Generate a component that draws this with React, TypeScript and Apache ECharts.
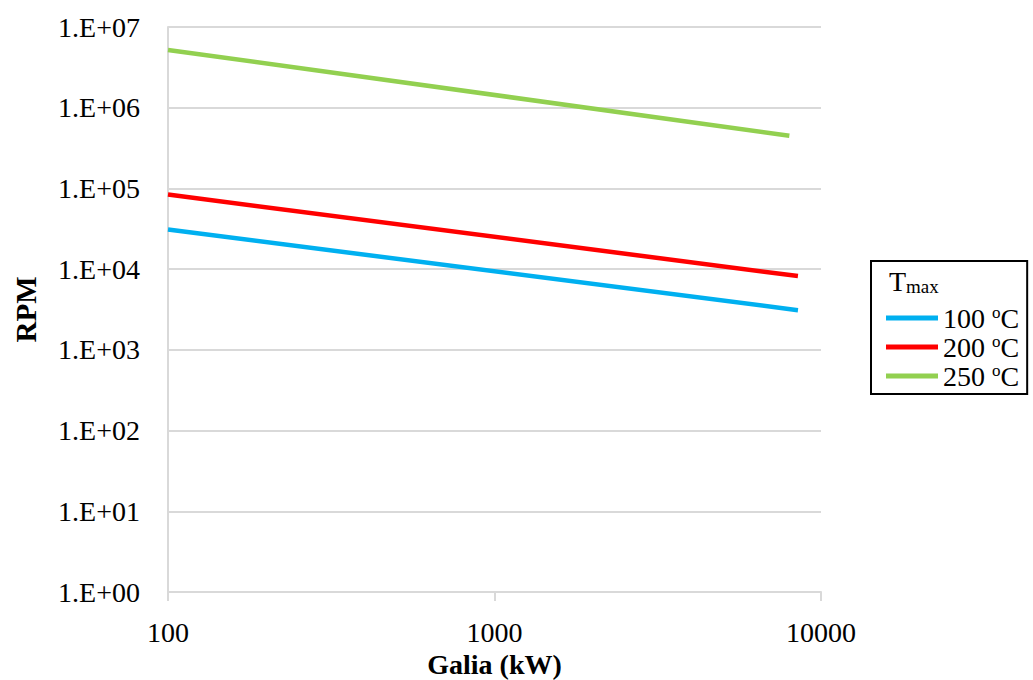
import React, { useEffect, useRef } from "react";
import * as echarts from "echarts";

const seriesNames = ["100", "200", "250"];
const seriesColors = ["#00B0F0", "#FF0000", "#92D050"];
const galia100 = [100, 8500];
const rpm100 = [31000, 3100];
const galia200 = [100, 8500];
const rpm200 = [84000, 8200];
const galia250 = [100, 8000];
const rpm250 = [5200000, 450000];
const yTickLabels = ["1.E+00", "1.E+01", "1.E+02", "1.E+03", "1.E+04", "1.E+05", "1.E+06", "1.E+07"];
const xTickLabels = ["100", "1000", "10000"];

const FONT = "'Liberation Serif', 'Times New Roman', serif";

export default function App() {
  const ref = useRef<HTMLDivElement>(null);
  useEffect(() => {
    if (!ref.current) return;
    const chart = echarts.init(ref.current, undefined, { renderer: "svg" });
    const xs = [galia100, galia200, galia250];
    const ys = [rpm100, rpm200, rpm250];
    chart.setOption({
      animation: false,
      backgroundColor: "#ffffff",
      textStyle: { fontFamily: FONT },
      grid: { left: 168, right: 212, top: 27, bottom: 88, outerBoundsMode: "none", containLabel: false },
      xAxis: {
        type: "log",
        logBase: 10,
        min: 100,
        max: 10000,
        name: "Galia (kW)",
        nameLocation: "middle",
        nameGap: 58,
        nameTextStyle: { fontFamily: FONT, fontSize: 28, fontWeight: "bold", color: "#000" },
        axisLine: { show: true, lineStyle: { color: "#d9d9d9", width: 2 } },
        axisTick: { show: true, length: 9, lineStyle: { color: "#d9d9d9", width: 2 } },
        splitLine: { show: false },
        axisLabel: {
          fontFamily: FONT,
          fontSize: 28,
          color: "#000",
          margin: 26,
          formatter: (v: number) => xTickLabels[Math.round(Math.log10(v)) - 2] ?? "",
        },
      },
      yAxis: {
        type: "log",
        logBase: 10,
        min: 1,
        max: 1e7,
        name: "RPM",
        nameLocation: "middle",
        nameRotate: 90,
        nameGap: 128,
        nameTextStyle: { fontFamily: FONT, fontSize: 29, fontWeight: "bold", color: "#000" },
        axisLine: { show: true, lineStyle: { color: "#d9d9d9", width: 2 } },
        axisTick: { show: false },
        splitLine: { show: true, lineStyle: { color: "#d9d9d9", width: 2 } },
        axisLabel: {
          fontFamily: FONT,
          fontSize: 28,
          color: "#000",
          margin: 28,
          formatter: (v: number) => yTickLabels[Math.round(Math.log10(v))] ?? "",
        },
      },
      legend: {
        orient: "vertical",
        left: 871,
        top: 261,
        padding: [43, 8, 4, 15],
        borderColor: "#000",
        borderWidth: 2,
        itemWidth: 52,
        itemHeight: 5,
        itemGap: 1,
        icon: "rect",
        data: seriesNames.map((n) => n + " oC"),
        formatter: (name: string) => `{a|${name.split(" ")[0]} }{s|o}{a|C}`,
        textStyle: {
          fontFamily: FONT,
          color: "#000",
          fontSize: 28,
          lineHeight: 28,
          rich: {
            a: { fontFamily: FONT, fontSize: 28, color: "#000", lineHeight: 28 },
            s: { fontFamily: FONT, fontSize: 17, color: "#000", verticalAlign: "top", lineHeight: 15 },
          },
        },
      },
      graphic: [
        {
          type: "text",
          left: 889,
          top: 267,
          style: {
            text: "{t|T}{m|max}",
            rich: {
              t: { fontFamily: FONT, fontSize: 28, fill: "#000", lineHeight: 30 },
              m: { fontFamily: FONT, fontSize: 19, fill: "#000", verticalAlign: "bottom", lineHeight: 19 },
            },
          },
        },
      ],
      series: seriesNames.map((n, i) => ({
        name: n + " oC",
        type: "line",
        showSymbol: false,
        symbol: "none",
        lineStyle: { color: seriesColors[i], width: 4.5 },
        itemStyle: { color: seriesColors[i] },
        data: xs[i].map((x, j) => [x, ys[i][j]]),
      })),
    });
    return () => chart.dispose();
  }, []);
  return (
    <div
      ref={ref}
      style={{ position: "absolute", left: 0, top: 0, width: 1033, height: 680, overflow: "hidden" }}
    />
  );
}
